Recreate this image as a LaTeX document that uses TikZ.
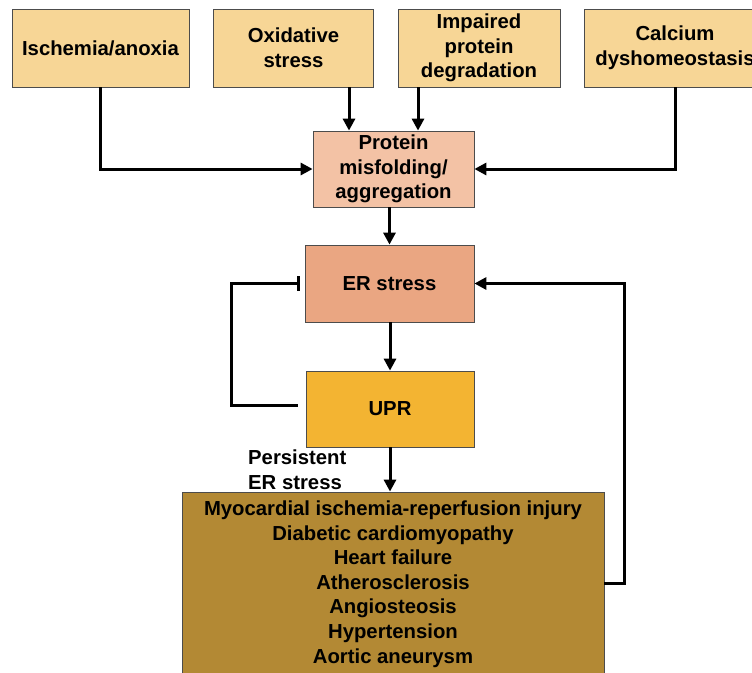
\documentclass[tikz,border=0pt]{standalone}
\usepackage{fontspec}
\setmainfont{Liberation Sans}
\usetikzlibrary{arrows.meta}
\definecolor{causefill}{RGB}{247,214,150}
\definecolor{protfill}{RGB}{243,194,165}
\definecolor{erfill}{RGB}{234,166,130}
\definecolor{uprfill}{RGB}{243,180,50}
\definecolor{disfill}{RGB}{179,137,52}
\begin{document}
\begin{tikzpicture}[x=1pt,y=-1pt,>={Triangle[length=12pt,width=12pt]},
  font=\fontsize{20.3}{24.6}\selectfont\bfseries, line join=miter,
  box/.style={draw=black!70,line width=.8pt,inner sep=0pt,align=center},
  conn/.style={->,line width=3pt},
  inhib/.style={-{Bar[width=15pt]},line width=3pt}]
\useasboundingbox (0,0) rectangle (752,672);
\node (isch) at (100.5,48) [box,fill=causefill,minimum width=177pt,minimum height=78pt]{Ischemia/anoxia};
\node (oxid) at (293.5,48) [box,fill=causefill,minimum width=160pt,minimum height=78pt]{Oxidative\\stress};
\node (impr) at (479,48) [box,fill=causefill,minimum width=162pt,minimum height=78pt]{Impaired\\protein\\degradation};
\node (calc) at (675,48) [box,fill=causefill,minimum width=182pt,minimum height=78pt]{Calcium\\dyshomeostasis};
\node (prot) at (393.5,169) [box,fill=protfill,minimum width=161pt,minimum height=76pt]{Protein\\misfolding/\\aggregation};
\node (er) at (389.5,283.5) [box,fill=erfill,minimum width=169pt,minimum height=77pt]{ER stress};
\node (upr) at (390,409) [box,fill=uprfill,minimum width=168pt,minimum height=76pt]{UPR};
\node (dis) at (393,584) [box,fill=disfill,minimum width=422pt,minimum height=184pt]{Myocardial ischemia-reperfusion injury\\Diabetic cardiomyopathy\\Heart failure\\Atherosclerosis\\Angiosteosis\\Hypertension\\Aortic aneurysm};
\node (pers) at (248,469.5) [anchor=west,inner sep=0pt,align=left]{Persistent\\ER stress};
\coordinate (p1) at ([xshift=-44.5pt]prot.north);
\coordinate (p2) at ([xshift=24.5pt]prot.north);
\draw[conn] (isch.south) |- (prot.west);
\draw[conn] (calc.south) |- (prot.east);
\draw[conn] (p1 |- oxid.south) -- (p1);
\draw[conn] (p2 |- impr.south) -- (p2);
\draw[conn] (er.north |- prot.south) -- (er.north);
\draw[conn] (upr.north |- er.south) -- (upr.north);
\draw[conn] (upr.south) -- (upr.south |- dis.north);
\draw[inhib] ([xshift=-8pt,yshift=4pt]upr.west) -- ++(-66,0) |- ([xshift=-5pt]er.west);
\draw[conn] ([yshift=1pt]dis.east) -- ++(20,0) |- (er.east);
\end{tikzpicture}
\end{document}
